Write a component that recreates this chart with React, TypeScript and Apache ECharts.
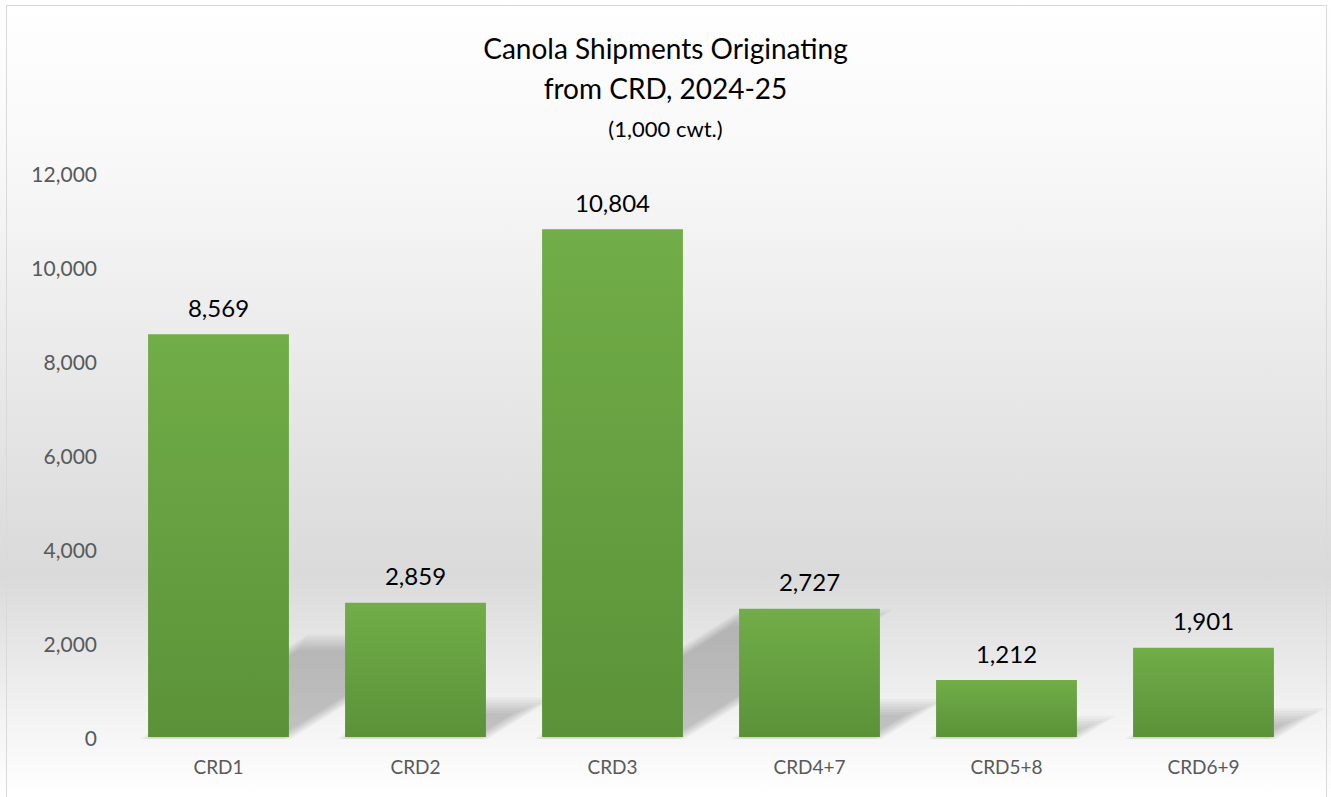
import React, { useEffect, useRef } from "react";
import * as echarts from "echarts";

const categories = ["CRD1", "CRD2", "CRD3", "CRD4+7", "CRD5+8", "CRD6+9"];
const shipments = [8569, 2859, 10804, 2727, 1212, 1901];
const titleLines = ["Canola Shipments Originating", "from CRD, 2024-25"];
const subtitle = "(1,000 cwt.)";
const yMin = 0;
const yMax = 12000;
const yInterval = 2000;

const FONT = "Lato, 'Noto Sans', sans-serif";
const BAR_RATIO = 0.715;

const fmt = (n: number) => n.toLocaleString("en-US");

export default function App() {
  const ref = useRef<HTMLDivElement>(null);
  useEffect(() => {
    if (!ref.current) return;
    const chart = echarts.init(ref.current, undefined, { renderer: "svg" });
    chart.setOption({
      animation: false,
      backgroundColor: new echarts.graphic.LinearGradient(0, 0, 0, 1, [
        { offset: 0, color: "#ffffff" },
        { offset: 0.2, color: "#f8f8f8" },
        { offset: 0.72, color: "#dadada" },
        { offset: 0.9, color: "#f3f3f3" },
        { offset: 1, color: "#ffffff" },
      ]),
      title: [
        {
          text: titleLines.join("\n"),
          left: "center",
          top: 28,
          padding: 0,
          textStyle: {
            fontFamily: FONT,
            fontSize: 28,
            fontWeight: "normal",
            color: "#000000",
            lineHeight: 40,
          },
        },
        {
          text: subtitle,
          left: "center",
          top: 115,
          padding: 0,
          textStyle: {
            fontFamily: FONT,
            fontSize: 22,
            fontWeight: "normal",
            color: "#000000",
            lineHeight: 26,
          },
        },
      ],
      graphic: [
        {
          type: "rect",
          shape: { x: 6.5, y: 5.5, width: 1320, height: 800 },
          style: { fill: "none", stroke: "#d9d9d9", lineWidth: 1 },
          silent: true,
        },
      ],
      grid: { left: 120, right: 29, top: 173, bottom: 60 },
      xAxis: {
        type: "category",
        data: categories,
        axisLine: { show: false },
        axisTick: { show: false },
        axisLabel: {
          fontFamily: FONT,
          fontSize: 19,
          color: "#595959",
          margin: 20,
        },
      },
      yAxis: {
        type: "value",
        min: yMin,
        max: yMax,
        interval: yInterval,
        splitLine: { show: false },
        axisLine: { show: false },
        axisTick: { show: false },
        axisLabel: {
          fontFamily: FONT,
          fontSize: 21,
          color: "#595959",
          margin: 23,
          formatter: (v: number) => fmt(v),
        },
      },
      series: [
        {
          type: "custom",
          z: 1,
          clip: false,
          silent: true,
          data: shipments.map((v, i) => [i, v]),
          encode: { x: 0, y: 1 },
          renderItem: (params: any, api: any) => {
            const i = api.value(0);
            const v = api.value(1);
            const base = api.coord([i, 0]);
            const top = api.coord([i, v]);
            const bw = api.size([1, 0])[0] * BAR_RATIO;
            const h = base[1] - top[1];
            const dy = 0.235 * h;
            const slope = 0.62;
            const x0 = base[0] - bw / 2;
            const x1 = base[0] + bw / 2;
            const y0 = base[1];
            const layers = 7;
            const step = 2.6;
            const children: any[] = [];
            for (let k = 0; k < layers; k++) {
              const d = (k - 2) * step;
              const yb = y0 + 2 - Math.max(0, d) * 0.3;
              const yt = y0 - dy - 2 * step + d + step;
              if (yb - yt < 2) break;
              const xl = (y: number) => x0 + (y0 - y) / slope + d;
              const xr = (y: number) => x1 + (y0 - y) / slope - d;
              children.push({
                type: "polygon",
                shape: {
                  points: [
                    [xl(yb), yb],
                    [xr(yb), yb],
                    [xr(yt), yt],
                    [xl(yt), yt],
                  ],
                },
                style: { fill: "rgba(0,0,0,0.032)" },
              });
            }
            return { type: "group", children };
          },
        },
        {
          type: "bar",
          z: 3,
          data: shipments,
          barWidth: BAR_RATIO * 100 + "%",
          itemStyle: {
            color: new echarts.graphic.LinearGradient(0, 0, 0, 1, [
              { offset: 0, color: "#71ad48" },
              { offset: 1, color: "#5b9239" },
            ]),
          },
          label: {
            show: true,
            position: "top",
            distance: 15,
            fontFamily: FONT,
            fontSize: 24,
            color: "#000000",
            formatter: (p: any) => fmt(p.value),
          },
        },
      ],
    });
    return () => chart.dispose();
  }, []);
  return (
    <div
      ref={ref}
      style={{ position: "fixed", left: 0, top: 0, width: 1331, height: 797 }}
    />
  );
}
